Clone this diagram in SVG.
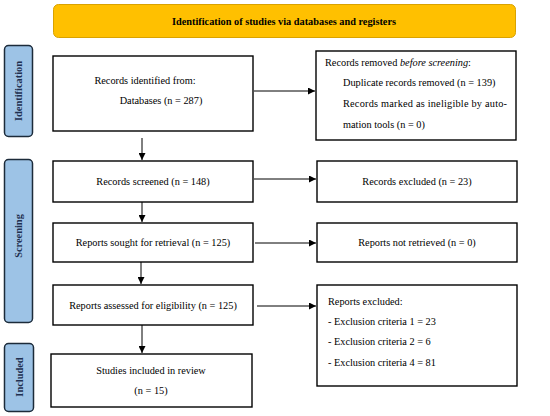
<svg xmlns="http://www.w3.org/2000/svg" width="550" height="416" viewBox="0 0 550 416">
<style>
text{font-family:"Liberation Serif","DejaVu Serif",serif;font-size:10.3px;fill:#000}
.box{fill:#fff;stroke:#000;stroke-width:1.4}
.side{fill:#9DC3E6;stroke:#1c2b3a;stroke-width:1.5}
.sl{font-weight:bold;font-size:10.4px;fill:#1F3050}
.c{text-anchor:middle}
.ln{stroke:#000;stroke-width:1;fill:none}
</style>
<defs>
<marker id="ah" viewBox="0 0 10 10" refX="10" refY="5" markerWidth="7" markerHeight="7" orient="auto" markerUnits="userSpaceOnUse">
<path d="M0,0 L10,5 L0,10 z" fill="#000"/>
</marker>
</defs>
<g id="header">
<rect x="53.5" y="4.5" width="462" height="33" rx="5" fill="#FFC000" stroke="#d9a200" stroke-width="1"/>
<text x="284" y="25" class="c" style="font-weight:bold">Identification of studies via databases and registers</text>
</g>
<g id="lbl-identification">
<rect x="4.5" y="45.5" width="28" height="91" rx="4" class="side"/>
<text transform="translate(22,91) rotate(-90)" class="c sl">Identification</text>
</g>
<g id="lbl-screening">
<rect x="4.5" y="159.5" width="28" height="163" rx="4" class="side"/>
<text transform="translate(22,236) rotate(-90)" class="c sl">Screening</text>
</g>
<g id="lbl-included">
<rect x="4.5" y="343.5" width="29" height="68" rx="4" class="side"/>
<text transform="translate(22.5,377) rotate(-90)" class="c sl">Included</text>
</g>
<g id="identified">
<rect x="53" y="56" width="200" height="75" class="box"/>
<text x="145" y="84" class="c">Records identified from:</text>
<text x="161" y="104" class="c">Databases (n = 287)</text>
</g>
<g id="removed">
<rect x="316" y="51" width="200" height="89" class="box"/>
<text x="325" y="66">Records removed <tspan font-style="italic">before screening</tspan>:</text>
<text x="343" y="86">Duplicate records removed (n = 139)</text>
<text x="343" y="107" textLength="164" lengthAdjust="spacing">Records marked as ineligible by auto-</text>
<text x="343" y="128">mation tools (n = 0)</text>
</g>
<g id="screened">
<rect x="53" y="161" width="200" height="41" class="box"/>
<text x="153" y="185" class="c">Records screened (n = 148)</text>
</g>
<g id="excluded">
<rect x="317" y="161" width="200" height="41" class="box"/>
<text x="417" y="185" class="c">Records excluded (n = 23)</text>
</g>
<g id="sought">
<rect x="53" y="223" width="200" height="39" class="box"/>
<text x="153" y="246" class="c">Reports sought for retrieval (n = 125)</text>
</g>
<g id="notretrieved">
<rect x="317" y="223" width="200" height="39" class="box"/>
<text x="417" y="246" class="c">Reports not retrieved (n = 0)</text>
</g>
<g id="assessed">
<rect x="53" y="285" width="200" height="40" class="box"/>
<text x="153" y="309" class="c">Reports assessed for eligibility (n = 125)</text>
</g>
<g id="reportsexcluded">
<rect x="317" y="285" width="200" height="101" class="box"/>
<text x="328" y="305">Reports excluded:</text>
<text x="328" y="325">- Exclusion criteria 1 = 23</text>
<text x="328" y="345">- Exclusion criteria 2 = 6</text>
<text x="328" y="366">- Exclusion criteria 4 = 81</text>
</g>
<g id="included">
<rect x="51" y="354" width="201" height="53" class="box"/>
<text x="151" y="374" class="c">Studies included in review</text>
<text x="151" y="394" class="c">(n = 15)</text>
</g>
<g id="connectors">
<line x1="254" y1="91" x2="315" y2="91" class="ln" marker-end="url(#ah)"/>
<line x1="142" y1="138" x2="142" y2="160" class="ln" marker-end="url(#ah)"/>
<line x1="254" y1="179" x2="316" y2="179" class="ln" marker-end="url(#ah)"/>
<line x1="142" y1="202" x2="142" y2="222" class="ln" marker-end="url(#ah)"/>
<line x1="255" y1="243" x2="316" y2="243" class="ln" marker-end="url(#ah)"/>
<line x1="141" y1="262" x2="141" y2="284" class="ln" marker-end="url(#ah)"/>
<line x1="257" y1="306" x2="316" y2="306" class="ln" marker-end="url(#ah)"/>
<line x1="142" y1="325" x2="142" y2="353" class="ln" marker-end="url(#ah)"/>
</g>
</svg>
